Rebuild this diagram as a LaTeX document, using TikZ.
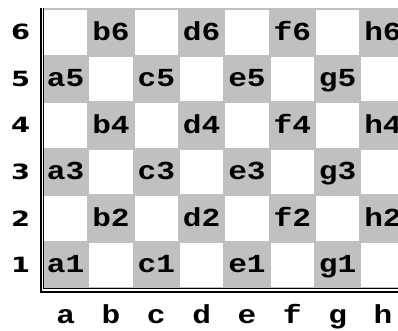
\documentclass[tikz,border=0pt]{standalone}
\usepackage{fontspec}
\newfontfamily\monob{Liberation Mono}[FakeStretch=1.2]
\newfontfamily\digf{DejaVu Sans}[FakeStretch=1.3]
\definecolor{sqgray}{HTML}{C0C0C0}
\begin{document}
\begin{tikzpicture}[x=1pt,y=1pt,
  sqlabel/.style={font=\monob\bfseries\fontsize{26}{26}\selectfont, anchor=base, inner sep=0pt},
  filelabel/.style={font=\monob\bfseries\fontsize{26}{26}\selectfont, anchor=base, inner sep=0pt},
  ranklabel/.style={font=\digf\bfseries\fontsize{21}{21}\selectfont, anchor=base, inner sep=0pt},
  outerline/.style={line width=2pt, black},
  innerline/.style={line width=1.2pt, black}]
\useasboundingbox (0,0) rectangle (398,331);
\fill[sqgray] (43,42.5) rectangle (406,323);
\foreach \f [count=\ii from 0] in {a,b,c,d,e,f,g,h} {
  \foreach \r in {1,...,6} {
    \pgfmathsetmacro{\xl}{43+45.33*\ii}
    \pgfmathsetmacro{\xc}{\xl+22.665}
    \pgfmathsetmacro{\yt}{322-(6-\r)*46.58}
    \pgfmathsetmacro{\yc}{\yt-23.29}
    \pgfmathtruncatemacro{\sqpar}{mod(\ii+\r,2)}
    \ifnum\sqpar=0
      \fill[white] (\xl+1,\yt-1) rectangle (\xl+44.33,\yt-45.58);
    \else
      \node[sqlabel] (\f\r) at (\xc,\yc-7.8) {\f\r};
    \fi
  }
  \pgfmathsetmacro{\xc}{43+45.33*\ii+22.665}
  \node[filelabel] (file\f) at (\xc,7) {\f};
}
\foreach \r in {1,...,6} {
  \pgfmathsetmacro{\yc}{322-(6-\r)*46.58-23.29}
  \node[ranklabel] (rank\r) at (20.5,\yc-7.4) {\r};
}
\draw[outerline] (41,323) -- (41,39.3) -- (410,39.3);
\draw[innerline] (43.2,323) -- (43.2,42.8) -- (410,42.8);
\end{tikzpicture}
\end{document}
